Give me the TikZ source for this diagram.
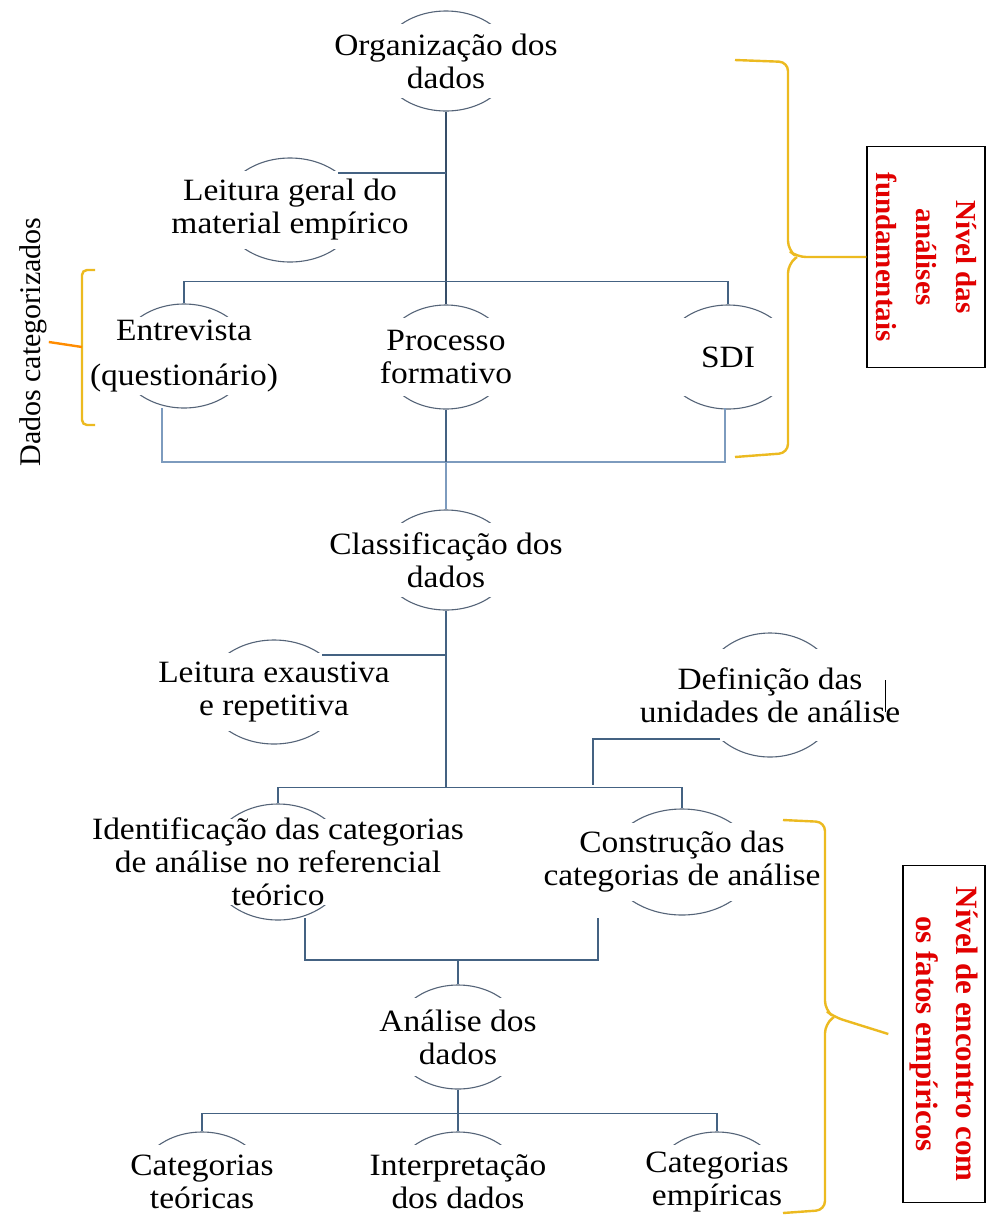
\documentclass[tikz,border=0pt]{standalone}
\usepackage{fontspec}
\setmainfont{Liberation Serif}[FakeStretch=1.08]
\newfontfamily\sidefont{Liberation Serif}
\usetikzlibrary{shapes.geometric}
\definecolor{ringgray}{RGB}{85,100,120}
\definecolor{linkblue}{RGB}{68,98,130}
\definecolor{linklight}{RGB}{125,155,190}
\definecolor{bracegold}{RGB}{236,186,32}
\definecolor{levelred}{RGB}{225,0,0}
\tikzset{
  ring/.style={ellipse, draw=ringgray, line width=1.1pt, inner sep=0pt, minimum width=132pt, minimum height=104pt},
  lbl/.style={align=center, inner sep=0pt, font=\fontsize{31}{33}\selectfont},
  link/.style={draw=linkblue, line width=1.5pt},
  spine/.style={draw=linkblue!80!black, line width=2.4pt},
  brace/.style={draw=bracegold, line width=2.4pt, rounded corners=9pt},
  levelbox/.style={draw, line width=1.4pt, rotate=-90, align=center, text=levelred, font=\sidefont\bfseries\fontsize{30}{40}\selectfont},
}
\def\bubble[#1](#2)(#3)#4{%
  \node[ring,#1] (#3) at (#2) {};
  \path[fill=white, draw=white, line width=3pt] (#3.west |- #3.north west) rectangle (#3.east |- #3.south east);
  \node[lbl] (#3-t) at (#2) {#4};
}

\begin{document}
\begin{tikzpicture}[x=1pt,y=-1pt]
  %%%%% START %%%%%
  \useasboundingbox (0,0) rectangle (988,1216);
  \fill[white] (0,0) rectangle (988,1216);
  \clip (0,0) rectangle (988,1216);

  % first level
  \bubble[minimum height=100pt](446,61)(org){Organização dos\\dados}
  \bubble[minimum width=136pt](290,210)(leit1){Leitura geral do\\material empírico}
  \bubble[](184,356)(entr){Entrevista\\[12pt](questionário)}
  \bubble[minimum width=128pt](446,357)(proc){Processo\\formativo}
  \bubble[](728,357)(sdi){SDI}

  % second level
  \bubble[minimum height=100pt](446,560)(clas){Classificação dos\\dados}
  \bubble[minimum width=136pt](274,692)(leit2){Leitura exaustiva\\e repetitiva}
  \bubble[minimum width=140pt, minimum height=124pt](770,695)(defi){Definição das\\unidades de análise}
  \bubble[minimum width=140pt, minimum height=116pt](278,862)(ident){Identificação das categorias\\de análise no referencial\\teórico}
  \bubble[minimum width=146pt, minimum height=106pt](682,862)(cons){Construção das\\categorias de análise}

  % third level
  \bubble[minimum width=130pt](458,1037)(anal){Análise dos\\dados}
  \bubble[minimum width=128pt, minimum height=100pt](202,1182)(cat1){Categorias\\teóricas}
  \bubble[minimum width=128pt, minimum height=100pt](458,1182)(interp){Interpretação\\dos dados}
  \bubble[minimum width=128pt, minimum height=100pt](717,1182)(cat2){Categorias\\empíricas}

  \draw[line width=0.8pt] ([xshift=-15pt]defi-t.east) ++(0,-15) -- ++(0,32);

  % connectors, top
  \draw[spine] (org.south) -- (proc.north);
  \draw[link] (leit1.north east) -- (leit1.north east -| org.south);
  \draw[link] (entr.north) -- ++(0,-22) -| (sdi.north);
  \coordinate (b1) at (446,462);
  \coordinate (e1) at (162,408);
  \coordinate (s1) at (725,408);
  \draw[draw=linklight, line width=1.5pt] (e1) |- (b1) -| (s1);
  \draw[link] (proc.south) -- (b1);
  \draw[draw=linklight, line width=1.5pt] (b1) -- (clas.north);

  % connectors, middle
  \draw[link] (clas.south) -- ++(0,177) coordinate (b2);
  \draw[link] (leit2.north east) -- (leit2.north east -| clas.south);
  \draw[link] (ident.north) -- (ident.north |- b2) -| (cons.north);
  \coordinate (d1) at (593,785);
  \draw[link] (defi.south west) -| (d1);

  % connectors, bottom
  \coordinate (b3) at (458,960);
  \coordinate (i1) at (305,918);
  \coordinate (c1) at (598,918);
  \draw[link] (i1) |- (b3) -| (c1);
  \draw[link] (b3) -- (anal.north);
  \draw[link] (anal.south) -- ++(0,24) coordinate (b4);
  \draw[link] (cat1.north) |- (b4) -| (cat2.north);
  \draw[link] (b4) -- (interp.north);

  % levels
  \node[levelbox, minimum width=221pt, minimum height=118pt, font=\sidefont\bfseries\fontsize{29}{40}\selectfont] (nivel1) at (926,257) {Nível das\\análises\\fundamentais};
  \node[levelbox, minimum width=337pt, minimum height=82pt, font=\sidefont\bfseries\fontsize{31}{40}\selectfont] (nivel2) at (944,1034) {Nível de encontro com\\os fatos empíricos};
  \node[rotate=90, inner sep=0pt, font=\sidefont\fontsize{30}{36}\selectfont] (dados) at (33,342) {Dados categorizados};

  \draw[brace] (735,60) -- (788,62) -- (788,250) -- (797,257) -- (nivel1.south);
  \draw[brace] (797,257) -- (788,264) -- (788,453) -- (735,457);
  \draw[brace] (783,820) -- (825,822) -- (825,1010) -- (834,1017) -- ([xshift=-14pt]nivel2.south);
  \draw[brace] (834,1017) -- (825,1024) -- (825,1210) -- (783,1213);
  \draw[brace, rounded corners=5pt] (95,270) -- (82,270) -- (82,425) -- (95,425);
  \draw[brace, draw=orange!90!yellow] ([xshift=2pt]dados.south) -- (82,347);
  %%%%% END %%%%%
\end{tikzpicture}
\end{document}
